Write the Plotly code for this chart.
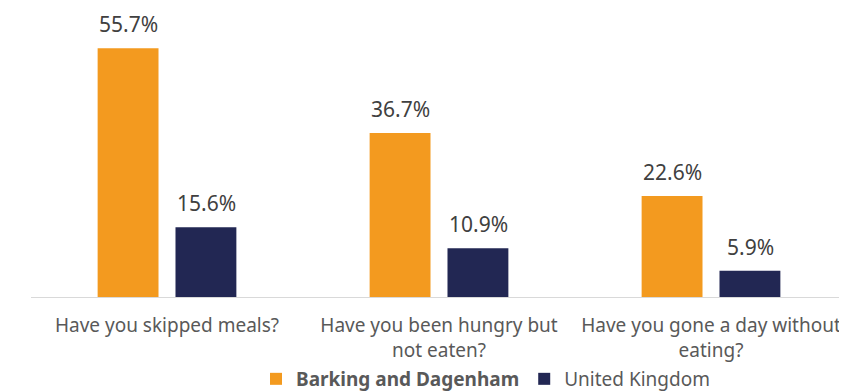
import plotly.graph_objects as go

categories = ["Have you skipped meals?", "Have you been hungry but<br>not eaten?", "Have you gone a day without<br>eating?"]
barking = [55.7, 36.7, 22.6]
uk = [15.6, 10.9, 5.9]
series_names = ["<b>Barking and Dagenham</b>", "United Kingdom"]
colors = ["#F39A1F", "#222753"]

fig = go.Figure()
fig.add_bar(x=categories, y=barking, name=series_names[0], marker_color=colors[0], marker_line_width=0)
fig.add_bar(x=categories, y=uk, name=series_names[1], marker_color=colors[1], marker_line_width=0)

for vals, shift in [(barking, -39), (uk, 39)]:
    for c, v in zip(categories, vals):
        fig.add_annotation(x=c, y=v, text=f"{v:.1f}%", showarrow=False, xshift=shift, yshift=24,
                           yanchor="middle", font=dict(size=21, color="#404040"))

# page body has an 8px default margin, so the figure is sized to fit the window
fig.update_layout(
    width=839, height=384,
    margin=dict(l=23, r=0, t=21, b=95, autoexpand=False),
    paper_bgcolor="white", plot_bgcolor="white",
    font=dict(family="Noto Sans", size=19, color="#595959"),
    barmode="group", bargap=0.4275, bargroupgap=0.218,
    showlegend=True,
    legend=dict(orientation="h", x=0.557, xanchor="center", y=-0.235, yanchor="top",
                font=dict(size=19, color="#595959"), itemsizing="constant", traceorder="normal",
                itemwidth=30, tracegroupgap=0),
    xaxis=dict(showline=True, linecolor="#d9d9d9", linewidth=1, ticks="", automargin=False,
               ticklabelstandoff=11, tickfont=dict(size=19, color="#595959")),
    yaxis=dict(range=[0, 60], visible=False, showgrid=False, zeroline=False, automargin=False),
)

fig.write_html("out.html")
